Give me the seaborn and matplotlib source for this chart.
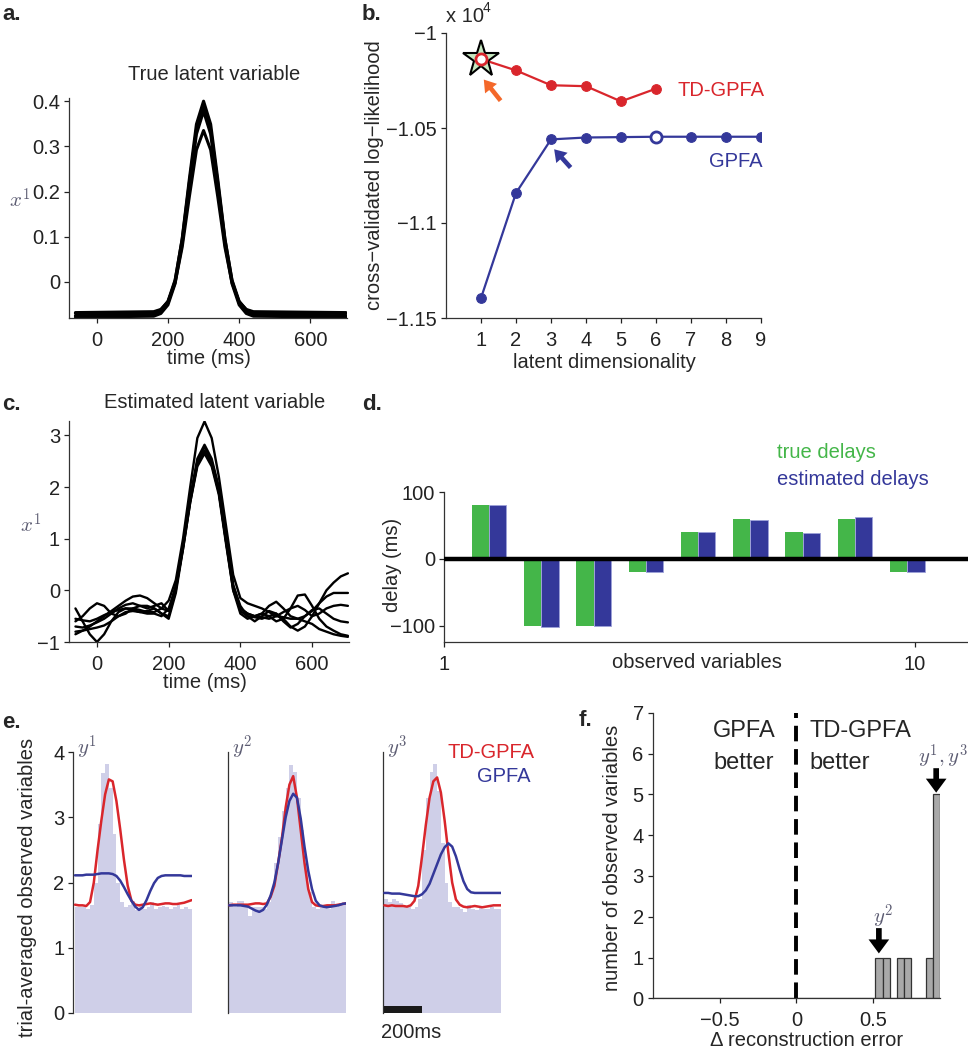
import numpy as np
import pandas as pd
import matplotlib
matplotlib.use("Agg")
import matplotlib.pyplot as plt
from matplotlib.ticker import FuncFormatter
import seaborn as sns

# ---------------- data ----------------
# a. true latent variable (time in ms)
true_t = [-60, 160, 180, 200, 220, 240, 260, 280, 300, 320, 340, 360, 380, 400, 420, 440, 700]
true_x1 = [
    [-0.075, -0.073, -0.067, -0.047, 0.002, 0.096, 0.227, 0.349, 0.400, 0.349, 0.227, 0.096, 0.002, -0.047, -0.067, -0.073, -0.075],
    [-0.070, -0.068, -0.062, -0.043, 0.004, 0.094, 0.219, 0.336, 0.388, 0.336, 0.219, 0.094, 0.004, -0.043, -0.062, -0.068, -0.070],
    [-0.078, -0.076, -0.070, -0.051, -0.004, 0.085, 0.210, 0.327, 0.378, 0.327, 0.210, 0.085, -0.004, -0.051, -0.070, -0.076, -0.078],
    [-0.068, -0.066, -0.061, -0.044, -0.002, 0.077, 0.188, 0.292, 0.335, 0.292, 0.188, 0.077, -0.002, -0.044, -0.061, -0.066, -0.068],
]

# b. cross-validated log-likelihood vs latent dimensionality
dims = [1, 2, 3, 4, 5, 6, 7, 8, 9]
td_ll = [-10137, -10197, -10275, -10280, -10360, -10293]
gp_ll = [-11395, -10842, -10560, -10550, -10548, -10546, -10546, -10546, -10546]

# c. estimated latent variable, 20 ms grid from -60 to 700 ms
est_t = list(range(-60, 701, 20))
est_x1 = [
    [-0.35, -0.6, -0.85, -1.0, -0.85, -0.6, -0.42, -0.35, -0.38, -0.42, -0.45, -0.45, -0.5, -0.35, 0.05, 0.8, 1.7, 2.45, 2.7, 2.45, 1.9, 0.95, 0.05, -0.4, -0.5, -0.52, -0.55, -0.5, -0.45, -0.55, -0.7, -0.78, -0.7, -0.5, -0.25, 0.0, 0.15, 0.27, 0.33],
    [-0.6, -0.5, -0.35, -0.25, -0.3, -0.45, -0.5, -0.45, -0.35, -0.3, -0.3, -0.35, -0.45, -0.5, 0.0, 0.85, 1.75, 2.5, 2.78, 2.5, 1.95, 1.0, 0.1, -0.35, -0.45, -0.5, -0.45, -0.3, -0.22, -0.35, -0.5, -0.55, -0.5, -0.4, -0.25, -0.12, -0.05, -0.05, -0.05],
    [-0.85, -0.78, -0.7, -0.6, -0.5, -0.4, -0.3, -0.2, -0.12, -0.1, -0.15, -0.25, -0.35, -0.4, 0.05, 0.85, 1.75, 2.45, 2.68, 2.45, 1.9, 0.95, 0.0, -0.45, -0.55, -0.5, -0.45, -0.5, -0.6, -0.55, -0.35, -0.1, -0.08, -0.3, -0.55, -0.7, -0.78, -0.85, -0.88],
    [-0.7, -0.72, -0.68, -0.62, -0.55, -0.45, -0.35, -0.28, -0.25, -0.3, -0.35, -0.3, -0.25, -0.4, 0.1, 0.9, 1.8, 2.55, 2.82, 2.55, 2.0, 1.05, 0.1, -0.3, -0.5, -0.6, -0.5, -0.4, -0.45, -0.6, -0.72, -0.65, -0.5, -0.38, -0.35, -0.45, -0.55, -0.6, -0.62],
    [-0.8, -0.78, -0.75, -0.72, -0.68, -0.6, -0.5, -0.42, -0.4, -0.42, -0.4, -0.35, -0.45, -0.55, -0.05, 0.8, 1.7, 2.4, 2.65, 2.4, 1.85, 0.9, 0.0, -0.35, -0.45, -0.5, -0.52, -0.55, -0.5, -0.42, -0.35, -0.3, -0.38, -0.5, -0.45, -0.35, -0.3, -0.28, -0.3],
    [-0.55, -0.58, -0.6, -0.55, -0.48, -0.42, -0.38, -0.35, -0.35, -0.38, -0.42, -0.42, -0.35, -0.2, 0.2, 1.0, 2.0, 2.95, 3.27, 2.95, 2.2, 1.25, 0.3, -0.15, -0.25, -0.3, -0.35, -0.42, -0.5, -0.52, -0.55, -0.55, -0.6, -0.65, -0.75, -0.8, -0.85, -0.88, -0.9],
]

# d. delays of observed variables 2..10 (variable 1 is the reference)
var_ids = [2, 3, 4, 5, 6, 7, 8, 9, 10]
true_delays = [80, -100, -100, -20, 40, 60, 40, 60, -20]
est_delays = [80, -102, -100, -20, 40, 58, 39, 62, -20]

# e. trial-averaged observed variables (20 ms bins) and model fits
bin_left = list(range(0, 620, 20))
fit_t = list(range(0, 621, 20))
hist_y1 = [1.62, 1.62, 1.62, 1.6, 1.65, 2.0, 2.9, 3.68, 3.82, 3.45, 2.75, 2.0, 1.7, 1.62, 1.65, 1.72, 1.58, 1.66, 1.6, 1.62, 1.7, 1.6, 1.62, 1.64, 1.62, 1.6, 1.62, 1.66, 1.6, 1.62, 1.6]
hist_y2 = [1.7, 1.62, 1.72, 1.72, 1.62, 1.48, 1.62, 1.63, 1.62, 1.6, 1.7, 1.9, 2.3, 2.7, 3.1, 3.45, 3.8, 3.7, 3.3, 2.8, 2.3, 1.85, 1.62, 1.6, 1.62, 1.62, 1.6, 1.72, 1.62, 1.65, 1.7]
hist_y3 = [1.75, 1.7, 1.75, 1.72, 1.68, 1.62, 1.62, 1.6, 1.62, 1.75, 2.5, 3.3, 3.7, 3.82, 3.4, 2.6, 2.0, 1.7, 1.62, 1.62, 1.6, 1.55, 1.65, 1.6, 1.58, 1.62, 1.6, 1.6, 1.62, 1.6, 1.6]
td_y1 = [1.66, 1.65, 1.65, 1.64, 1.7, 2.0, 2.5, 2.95, 3.35, 3.58, 3.55, 3.25, 2.82, 2.35, 1.95, 1.72, 1.66, 1.65, 1.66, 1.67, 1.68, 1.67, 1.66, 1.67, 1.68, 1.68, 1.67, 1.67, 1.68, 1.69, 1.71, 1.73]
gp_y1 = [2.11, 2.11, 2.11, 2.12, 2.12, 2.12, 2.13, 2.14, 2.14, 2.14, 2.13, 2.1, 2.03, 1.93, 1.82, 1.72, 1.63, 1.58, 1.62, 1.73, 1.87, 1.99, 2.07, 2.1, 2.11, 2.11, 2.11, 2.11, 2.11, 2.1, 2.1, 2.1]
td_y2 = [1.65, 1.66, 1.66, 1.66, 1.66, 1.66, 1.67, 1.68, 1.68, 1.67, 1.68, 1.78, 1.95, 2.3, 2.68, 3.15, 3.5, 3.63, 3.3, 2.8, 2.3, 1.9, 1.7, 1.65, 1.64, 1.64, 1.65, 1.65, 1.65, 1.66, 1.67, 1.68]
gp_y2 = [1.65, 1.65, 1.65, 1.65, 1.64, 1.63, 1.6, 1.57, 1.55, 1.58, 1.66, 1.8, 2.0, 2.3, 2.65, 3.0, 3.25, 3.36, 3.3, 2.98, 2.55, 2.18, 1.9, 1.72, 1.65, 1.63, 1.62, 1.63, 1.64, 1.65, 1.67, 1.68]
td_y3 = [1.65, 1.64, 1.65, 1.64, 1.64, 1.64, 1.63, 1.65, 1.72, 1.95, 2.4, 2.88, 3.3, 3.55, 3.61, 3.38, 2.95, 2.45, 2.0, 1.74, 1.66, 1.63, 1.62, 1.63, 1.64, 1.63, 1.62, 1.63, 1.64, 1.65, 1.65, 1.65]
gp_y3 = [1.84, 1.84, 1.83, 1.83, 1.83, 1.82, 1.81, 1.8, 1.79, 1.79, 1.82, 1.88, 1.98, 2.13, 2.28, 2.43, 2.54, 2.6, 2.55, 2.4, 2.2, 2.02, 1.9, 1.85, 1.84, 1.84, 1.84, 1.84, 1.84, 1.84, 1.84, 1.84]

# f. difference in reconstruction error for the 10 observed variables
delta_err = [0.54, 0.59, 0.68, 0.72, 0.87, 0.91, 0.915, 0.92, 0.925, 0.93]

# ---------------- style ----------------
RED = "#d9262c"
BLUE = "#34389a"
GREEN = "#44b649"
ORANGE = "#f4682a"
LAV = "#cfcfe8"
MATHGRAY = "#5c5c72"

sns.set_theme(style="ticks")
plt.rcParams["font.family"] = ["Liberation Sans", "DejaVu Sans"]
plt.rcParams.update({
    "font.size": 14.5,
    "mathtext.fontset": "cm",
    "axes.linewidth": 0.9,
    "axes.edgecolor": "#333333",
    "xtick.major.size": 3.5,
    "ytick.major.size": 3.5,
    "xtick.major.width": 0.9,
    "ytick.major.width": 0.9,
    "xtick.major.pad": 5.5,
    "ytick.major.pad": 3,
    "xtick.labelsize": 14.5,
    "ytick.labelsize": 14.5,
    "xtick.color": "#222222",
    "ytick.color": "#222222",
})

W, H = 968, 1050
fig = plt.figure(figsize=(W / 100, H / 100), dpi=100)


def box(x0, y0, x1, y1):
    return [x0 / W, 1 - y1 / H, (x1 - x0) / W, (y1 - y0) / H]


def ftext(x, y, s, **kw):
    kw.setdefault("ha", "left")
    kw.setdefault("va", "center")
    fig.text(x / W, 1 - y / H, s, **kw)


gfmt = FuncFormatter(lambda v, p: ("%g" % v).replace("-", "\u2212"))
ARROW_B = "simple,head_length=0.38,head_width=0.5,tail_width=0.15"
ARROW_F = "simple,head_length=0.42,head_width=0.62,tail_width=0.17"


def long_df(t, trials):
    return pd.DataFrame({
        "t": t * len(trials),
        "x": [v for tr in trials for v in tr],
        "trial": [i for i, tr in enumerate(trials) for _ in tr],
    })


# ---------------- a ----------------
ax_a = fig.add_axes(box(69, 98, 347, 318))
sns.lineplot(data=long_df(true_t, true_x1), x="t", y="x", units="trial", estimator=None,
             color="black", lw=2.2, ax=ax_a)
ax_a.set_xlim(-78, 703)
ax_a.set_ylim(-0.08, 0.407)
ax_a.set_xticks([0, 200, 400, 600])
ax_a.set_yticks([0, 0.1, 0.2, 0.3, 0.4])
ax_a.yaxis.set_major_formatter(gfmt)
ax_a.set_xlabel("")
ax_a.set_ylabel("")
sns.despine(ax=ax_a)
ftext(214, 75, "True latent variable", ha="center")
ftext(209, 359, "time (ms)", ha="center")
ftext(20, 200, r"$x^1$", ha="center", color=MATHGRAY, fontsize=15)

# ---------------- b ----------------
ax_b = fig.add_axes(box(446, 33, 761, 318))
sns.lineplot(x=dims[:len(td_ll)], y=td_ll, color=RED, lw=1.6, marker="o", ms=7,
             mec=RED, ax=ax_b)
sns.lineplot(x=dims, y=gp_ll, color=BLUE, lw=1.6, marker="o", ms=7, mec=BLUE, ax=ax_b)
ax_b.plot(dims[0], td_ll[0], marker="*", ms=28, mfc="#c6e8c0", mec="black", mew=1.5,
          ls="none", zorder=4)
ax_b.plot(dims[0], td_ll[0], marker="o", ms=8, mfc="white", mec=RED, mew=2, ls="none", zorder=5)
ax_b.plot(dims[5], gp_ll[5], marker="o", ms=8, mfc="white", mec=BLUE, mew=2, ls="none", zorder=5)
ax_b.annotate("", xy=(1.08, -10245), xytext=(1.56, -10356),
              arrowprops=dict(arrowstyle=ARROW_B, color=ORANGE, lw=0, mutation_scale=22,
                              shrinkA=0, shrinkB=0))
ax_b.annotate("", xy=(3.09, -10612), xytext=(3.56, -10708),
              arrowprops=dict(arrowstyle=ARROW_B, color=BLUE, lw=0, mutation_scale=22,
                              shrinkA=0, shrinkB=0))
ax_b.text(6.62, -10302, "TD-GPFA", color=RED, va="center", ha="left")
ax_b.text(9.05, -10674, "GPFA", color=BLUE, va="center", ha="right")
ax_b.set_xlim(0, 9)
ax_b.set_ylim(-11500, -10000)
ax_b.set_xticks(dims)
ax_b.set_yticks([-10000, -10500, -11000, -11500])
ax_b.yaxis.set_major_formatter(FuncFormatter(lambda v, p: ("%g" % (v / 1e4)).replace("-", "\u2212")))
sns.despine(ax=ax_b)
ftext(446, 16, "x 10")
ftext(483, 8, "4", fontsize=10)
ftext(375, 175, "cross\u2212validated log\u2212likelihood", ha="center", rotation=90)
ftext(604, 363, "latent dimensionality", ha="center")

# ---------------- c ----------------
ax_c = fig.add_axes(box(69, 421, 349, 642))
sns.lineplot(data=long_df(est_t, est_x1), x="t", y="x", units="trial", estimator=None,
             color="black", lw=1.7, ax=ax_c)
ax_c.set_xlim(-78, 703)
ax_c.set_ylim(-1, 3.28)
ax_c.set_xticks([0, 200, 400, 600])
ax_c.set_yticks([-1, 0, 1, 2, 3])
ax_c.yaxis.set_major_formatter(gfmt)
ax_c.set_xlabel("")
ax_c.set_ylabel("")
sns.despine(ax=ax_c)
ftext(215, 403, "Estimated latent variable", ha="center")
ftext(205, 682, "time (ms)", ha="center")
ftext(31, 525, r"$x^1$", ha="center", color=MATHGRAY, fontsize=15)

# ---------------- d ----------------
ax_d = fig.add_axes(box(444, 492, 968, 642))
pos = np.array(var_ids) - 0.14
ax_d.bar(pos - 0.165, true_delays, width=0.33, color=GREEN, lw=0, zorder=2)
ax_d.bar(pos + 0.165, est_delays, width=0.33, color=BLUE, edgecolor="#9da1d8", lw=0.6, zorder=2)
ax_d.axhline(0, color="black", lw=3.2, zorder=3)
ax_d.set_xlim(1, 11.02)
ax_d.set_ylim(-124, 100)
ax_d.set_xticks([1, 10])
ax_d.set_yticks([-100, 0, 100])
ax_d.yaxis.set_major_formatter(gfmt)
sns.despine(ax=ax_d)
ftext(697, 663, "observed variables", ha="center")
ftext(392, 565, "delay (ms)", ha="center", rotation=90)
ftext(777, 452, "true delays", color=GREEN)
ftext(777, 479, "estimated delays", color=BLUE)

# ---------------- e ----------------
e_sets = [(hist_y1, td_y1, gp_y1, 73.3), (hist_y2, td_y2, gp_y2, 227.5), (hist_y3, td_y3, gp_y3, 382.7)]
for k, (hh, td, gp, x0) in enumerate(e_sets):
    ax = fig.add_axes(box(x0, 752, x0 + 118.4, 1013))
    ax.bar(bin_left, hh, width=20, align="edge", color=LAV, lw=0, zorder=1)
    sns.lineplot(x=fit_t, y=td, color=RED, lw=1.8, ax=ax, zorder=3)
    sns.lineplot(x=fit_t, y=gp, color=BLUE, lw=1.8, ax=ax, zorder=3)
    ax.set_xlim(-9, 620)
    ax.set_ylim(0, 4)
    ax.set_xticks([])
    sns.despine(ax=ax, bottom=True)
    if k == 0:
        ax.set_yticks([0, 1, 2, 3, 4])
    else:
        ax.set_yticks([])
    if k == 2:
        ax.bar(0, 0.1, width=200, align="edge", color="#1a1a1a", lw=0, zorder=4)
    ftext(x0 + 4, 748, r"$y^{%d}$" % (k + 1), color=MATHGRAY, fontsize=15)

ftext(534, 752, "TD-GPFA", color=RED, ha="right")
ftext(531, 777, "GPFA", color=BLUE, ha="right")
ftext(411, 1033, "200ms", ha="center")
ftext(27.5, 887, "trial-averaged observed variables", ha="center", rotation=90)

# ---------------- f ----------------
ax_f = fig.add_axes(box(652.7, 712.7, 940, 998.3))
sns.histplot(x=delta_err, bins=40, binrange=(-0.94, 0.94), color="#a9a9a9",
             edgecolor="#333333", linewidth=0.9, alpha=1, ax=ax_f)
ax_f.axvline(0, color="black", lw=2.8, ls=(0, (4, 2)))
ax_f.set_xlim(-0.94, 0.94)
ax_f.set_ylim(0, 7)
ax_f.set_xticks([-0.5, 0, 0.5])
ax_f.set_yticks(range(8))
ax_f.xaxis.set_major_formatter(gfmt)
ax_f.set_xlabel("")
ax_f.set_ylabel("")
sns.despine(ax=ax_f)
ax_f.annotate("", xy=(0.54, 1.1), xytext=(0.54, 1.72),
              arrowprops=dict(arrowstyle=ARROW_F, color="black", lw=0, mutation_scale=24,
                              shrinkA=0, shrinkB=0))
ax_f.annotate("", xy=(0.915, 5.04), xytext=(0.915, 5.64),
              arrowprops=dict(arrowstyle=ARROW_F, color="black", lw=0, mutation_scale=24,
                              shrinkA=0, shrinkB=0))
ftext(883, 917, r"$y^2$", ha="center", color=MATHGRAY, fontsize=15)
ftext(943, 757, r"$y^1, y^3$", ha="center", color=MATHGRAY, fontsize=15)
ftext(713, 731, "GPFA", fontsize=17)
ftext(713, 763, "better", fontsize=17)
ftext(809, 731, "TD-GPFA", fontsize=17)
ftext(809, 763, "better", fontsize=17)
ftext(612, 858, "number of observed variables", ha="center", rotation=90)
ftext(807, 1040, "\u0394 reconstruction error", ha="center")

# panel letters
for lab, x, y in [("a.", 2, 15), ("b.", 362, 15), ("c.", 2, 405), ("d.", 362, 405),
                  ("e.", 2, 723), ("f.", 579, 720)]:
    ftext(x, y, lab, fontsize=16, fontweight="bold")

fig.savefig("out.png", dpi=100)
